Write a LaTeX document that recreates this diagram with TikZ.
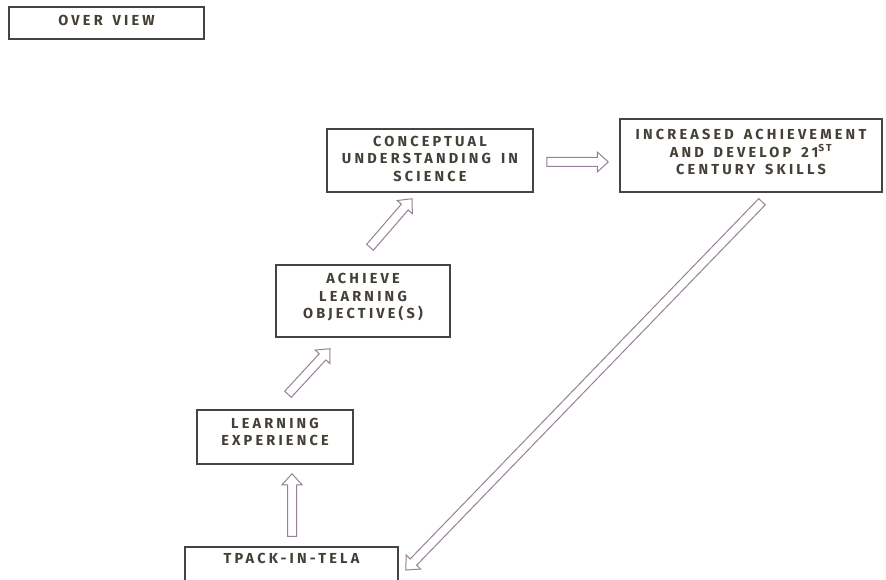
\documentclass[tikz,border=0pt]{standalone}
\usepackage{fontspec}
\usetikzlibrary{calc}
\newfontfamily\boxfont[LetterSpace=22,WordSpace=1.5]{Fira Sans}
\definecolor{boxline}{RGB}{68,68,68}
\definecolor{boxtext}{RGB}{68,63,55}
\definecolor{arrline}{RGB}{150,130,150}
% geometry of the hollow block arrows
\newcommand\arrshaft{4.5pt}
\newcommand\arrhead{10pt}
\newcommand\arrlen{11pt}
\newcommand\hollowarrow[2]{%
  \draw[flowarrow]
    ($(#1)!\arrshaft!90:(#2)$)
    -- ($(#2)!\arrlen!(#1)!\arrshaft!-90:(#1)$)
    -- ($(#2)!\arrlen!(#1)!\arrhead!-90:(#1)$)
    -- (#2)
    -- ($(#2)!\arrlen!(#1)!\arrhead!90:(#1)$)
    -- ($(#2)!\arrlen!(#1)!\arrshaft!90:(#1)$)
    -- ($(#1)!\arrshaft!-90:(#2)$)
    -- cycle;}
\begin{document}
\begin{tikzpicture}[x=1pt,y=-1pt,
  box/.style={draw=boxline, line width=1.5pt, fill=white, inner sep=0pt,
    align=center, text=boxtext,
    font=\boxfont\fontsize{14.5}{17.5}\selectfont\bfseries},
  flowarrow/.style={draw=arrline, line width=1pt, fill=white, line join=miter}]
\useasboundingbox (0,0) rectangle (886,580);
\fill[white] (0,0) rectangle (886,580);
\clip (0,0) rectangle (886,580);

% boxes
\node[box, minimum width=195pt, minimum height=32pt, text depth=5pt]
  (ov) at (106.5,23) {OVER VIEW};
\node[box, minimum width=206pt, minimum height=63pt, text depth=4pt]
  (cu) at (430,160.5) {CONCEPTUAL\\UNDERSTANDING  IN\\SCIENCE};
\node[box, minimum width=262pt, minimum height=73pt, text depth=7pt]
  (ia) at (751,155.5) {INCREASED  ACHIEVEMENT\\AND DEVELOP 21\textsuperscript{ST}\\CENTURY  SKILLS};
\node[box, minimum width=174pt, minimum height=72pt, text depth=10pt]
  (alo) at (363,301) {ACHIEVE\\LEARNING\\OBJECTIVE(S)};
\node[box, minimum width=156pt, minimum height=54pt, text depth=10pt]
  (le) at (275,437) {LEARNING\\EXPERIENCE};
\node[box, minimum width=213pt, minimum height=56pt, text depth=34pt]
  (tp) at (291.5,575) {TPACK-IN-TELA};

% arrow end points
\coordinate (a1s) at ($(cu.east)+(13,1.5)$);
\coordinate (a1e) at ($(ia.west)+(-11,6.5)$);
\coordinate (a2s) at ($(alo.north)+(7,-17)$);
\coordinate (a2e) at ($(cu.south)+(-18,6)$);
\coordinate (a3s) at ($(le.north)+(13,-15)$);
\coordinate (a3e) at ($(alo.south)+(-33,11)$);
\coordinate (a4s) at ($(tp.north)+(0.5,-10)$);
\coordinate (a4e) at ($(le.south)+(17,9)$);
\coordinate (a5s) at ($(ia.south)+(11,9)$);
\coordinate (a5e) at ($(tp.east)+(7,-5)$);

% connectors
\hollowarrow{a1s}{a1e}
\hollowarrow{a2s}{a2e}
\hollowarrow{a3s}{a3e}
\hollowarrow{a4s}{a4e}
\hollowarrow{a5s}{a5e}
\end{tikzpicture}
\end{document}
